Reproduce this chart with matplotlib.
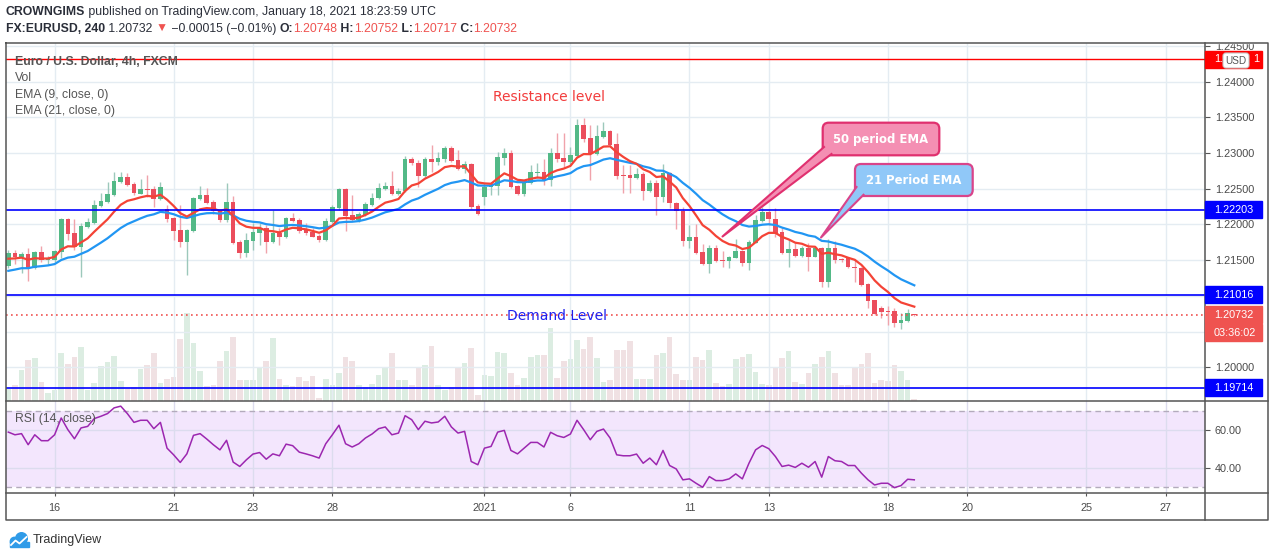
import numpy as np
import matplotlib
matplotlib.use("Agg")
import matplotlib.pyplot as plt
from matplotlib import font_manager
from matplotlib.patches import Rectangle, FancyBboxPatch, Polygon, Circle

# ---------------- EURUSD 4h candles ----------------
opens = [1.2142, 1.2160, 1.2154, 1.2158, 1.2139, 1.2161, 1.2150, 1.2150, 1.2161, 1.2207,
         1.2188, 1.2168, 1.2196, 1.2202, 1.2226, 1.2231, 1.2241, 1.2259, 1.2266, 1.2256,
         1.2242, 1.2249, 1.2249, 1.2235, 1.2221, 1.2209, 1.2192, 1.2175, 1.2191, 1.2235,
         1.2241, 1.2231, 1.2219, 1.2206, 1.2231, 1.2175, 1.2160, 1.2177, 1.2188, 1.2195,
         1.2175, 1.2188, 1.2182, 1.2209, 1.2206, 1.2193, 1.2189, 1.2184, 1.2178, 1.2203,
         1.2223, 1.2249, 1.2213, 1.2206, 1.2213, 1.2227, 1.2237, 1.2249, 1.2254, 1.2242,
         1.2247, 1.2291, 1.2286, 1.2268, 1.2291, 1.2287, 1.2291, 1.2307, 1.2290, 1.2277,
         1.2284, 1.2226, 1.2238, 1.2252, 1.2254, 1.2293, 1.2300, 1.2254, 1.2242, 1.2258,
         1.2272, 1.2273, 1.2262, 1.2300, 1.2293, 1.2288, 1.2296, 1.2339, 1.2321, 1.2298,
         1.2322, 1.2331, 1.2312, 1.2269, 1.2269, 1.2265, 1.2270, 1.2247, 1.2258, 1.2238,
         1.2272, 1.2230, 1.2219, 1.2177, 1.2182, 1.2161, 1.2144, 1.2167, 1.2150, 1.2149,
         1.2153, 1.2163, 1.2146, 1.2174, 1.2205, 1.2217, 1.2207, 1.2189, 1.2160, 1.2165,
         1.2156, 1.2167, 1.2154, 1.2167, 1.2119, 1.2167, 1.2151, 1.2153, 1.2140, 1.2139,
         1.2116, 1.2094, 1.2083, 1.2079, 1.2079, 1.2062, 1.2065, 1.20748]
highs = [1.2164, 1.2164, 1.2161, 1.2167, 1.2163, 1.2170, 1.2156, 1.2164, 1.2209, 1.2209,
         1.2207, 1.2202, 1.2209, 1.2234, 1.2244, 1.2259, 1.2273, 1.2273, 1.2272, 1.2259,
         1.2263, 1.2269, 1.2254, 1.2259, 1.2227, 1.2210, 1.2227, 1.2193, 1.2238, 1.2254,
         1.2251, 1.2234, 1.2221, 1.2258, 1.2240, 1.2178, 1.2188, 1.2202, 1.2202, 1.2199,
         1.2220, 1.2195, 1.2210, 1.2216, 1.2209, 1.2202, 1.2195, 1.2187, 1.2209, 1.2227,
         1.2251, 1.2251, 1.2241, 1.2217, 1.2231, 1.2244, 1.2258, 1.2259, 1.2275, 1.2251,
         1.2296, 1.2294, 1.2290, 1.2294, 1.2311, 1.2301, 1.2310, 1.2310, 1.2304, 1.2289,
         1.2286, 1.2228, 1.2258, 1.2259, 1.2301, 1.2307, 1.2304, 1.2255, 1.2262, 1.2283,
         1.2286, 1.2291, 1.2307, 1.2328, 1.2328, 1.2308, 1.2347, 1.2349, 1.2339, 1.2339,
         1.2343, 1.2332, 1.2328, 1.2283, 1.2283, 1.2279, 1.2273, 1.2262, 1.2262, 1.2284,
         1.2273, 1.2231, 1.2224, 1.2199, 1.2200, 1.2172, 1.2171, 1.2171, 1.2163, 1.2156,
         1.2179, 1.2164, 1.2178, 1.2213, 1.2224, 1.2220, 1.2223, 1.2195, 1.2179, 1.2174,
         1.2170, 1.2174, 1.2168, 1.2168, 1.2179, 1.2177, 1.2153, 1.2154, 1.2150, 1.2140,
         1.2118, 1.2094, 1.2086, 1.2086, 1.2083, 1.2076, 1.2081, 1.20752]
lows = [1.2139, 1.2144, 1.2132, 1.2121, 1.2137, 1.2147, 1.2144, 1.2147, 1.2153, 1.2178,
        1.2164, 1.2126, 1.2195, 1.2200, 1.2224, 1.2230, 1.2240, 1.2258, 1.2254, 1.2241,
        1.2242, 1.2238, 1.2224, 1.2234, 1.2203, 1.2178, 1.2168, 1.2129, 1.2189, 1.2234,
        1.2228, 1.2214, 1.2203, 1.2203, 1.2172, 1.2153, 1.2154, 1.2164, 1.2171, 1.2160,
        1.2174, 1.2171, 1.2181, 1.2203, 1.2188, 1.2185, 1.2182, 1.2175, 1.2177, 1.2202,
        1.2220, 1.2191, 1.2205, 1.2203, 1.2212, 1.2226, 1.2235, 1.2248, 1.2241, 1.2241,
        1.2245, 1.2283, 1.2252, 1.2266, 1.2273, 1.2283, 1.2287, 1.2287, 1.2276, 1.2272,
        1.2221, 1.2213, 1.2227, 1.2241, 1.2241, 1.2283, 1.2251, 1.2241, 1.2240, 1.2256,
        1.2265, 1.2255, 1.2254, 1.2287, 1.2280, 1.2283, 1.2294, 1.2316, 1.2262, 1.2297,
        1.2321, 1.2310, 1.2263, 1.2244, 1.2244, 1.2263, 1.2234, 1.2245, 1.2213, 1.2231,
        1.2223, 1.2193, 1.2170, 1.2167, 1.2158, 1.2143, 1.2132, 1.2147, 1.2140, 1.2139,
        1.2153, 1.2142, 1.2136, 1.2174, 1.2203, 1.2199, 1.2182, 1.2158, 1.2140, 1.2154,
        1.2154, 1.2135, 1.2154, 1.2112, 1.2112, 1.2146, 1.2147, 1.2139, 1.2119, 1.2114,
        1.2083, 1.2073, 1.2069, 1.2059, 1.2056, 1.2053, 1.2063, 1.20717]
closes = [1.2160, 1.2154, 1.2158, 1.2139, 1.2161, 1.2150, 1.2153, 1.2163, 1.2207, 1.2187,
          1.2168, 1.2198, 1.2203, 1.2227, 1.2233, 1.2242, 1.2261, 1.2266, 1.2255, 1.2244,
          1.2249, 1.2248, 1.2235, 1.2252, 1.2207, 1.2191, 1.2175, 1.2192, 1.2237, 1.2241,
          1.2230, 1.2219, 1.2206, 1.2231, 1.2174, 1.2160, 1.2178, 1.2189, 1.2195, 1.2175,
          1.2188, 1.2182, 1.2209, 1.2205, 1.2191, 1.2188, 1.2182, 1.2178, 1.2205, 1.2224,
          1.2249, 1.2212, 1.2206, 1.2214, 1.2228, 1.2237, 1.2251, 1.2254, 1.2242, 1.2247,
          1.2291, 1.2286, 1.2268, 1.2291, 1.2287, 1.2293, 1.2307, 1.2289, 1.2277, 1.2284,
          1.2224, 1.2214, 1.2252, 1.2255, 1.2294, 1.2300, 1.2252, 1.2242, 1.2258, 1.2273,
          1.2273, 1.2262, 1.2300, 1.2291, 1.2288, 1.2297, 1.2339, 1.2319, 1.2298, 1.2324,
          1.2331, 1.2311, 1.2268, 1.2268, 1.2265, 1.2270, 1.2247, 1.2258, 1.2238, 1.2272,
          1.2230, 1.2219, 1.2177, 1.2182, 1.2160, 1.2144, 1.2167, 1.2149, 1.2149, 1.2154,
          1.2163, 1.2146, 1.2175, 1.2206, 1.2217, 1.2207, 1.2188, 1.2160, 1.2165, 1.2156,
          1.2167, 1.2154, 1.2167, 1.2119, 1.2167, 1.2150, 1.2150, 1.2140, 1.2139, 1.2115,
          1.2093, 1.2075, 1.2077, 1.2077, 1.2062, 1.2066, 1.2076, 1.20732]
# tick volume (relative units)
volume = [12, 16, 31, 41, 43, 19, 8, 11, 48, 37,
          44, 54, 11, 18, 35, 39, 45, 20, 12, 14,
          32, 36, 48, 18, 22, 24, 62, 88, 58, 30,
          15, 16, 40, 50, 64, 21, 21, 21, 33, 40,
          63, 22, 16, 15, 24, 20, 25, 3, 22, 16,
          28, 44, 40, 16, 14, 17, 26, 34, 48, 21,
          21, 16, 33, 36, 55, 16, 11, 14, 34, 38,
          53, 6, 26, 25, 49, 48, 28, 16, 23, 44,
          46, 46, 73, 23, 40, 42, 61, 52, 64, 43,
          19, 21, 51, 51, 60, 22, 22, 22, 46, 48,
          64, 27, 21, 21, 44, 41, 51, 18, 15, 17,
          42, 44, 47, 29, 17, 16, 34, 43, 50, 19,
          17, 28, 37, 44, 50, 28, 16, 16, 33, 37,
          48, 18, 21, 20, 36, 30, 21, 2]
rsi = [58.9, 57.5, 58.1, 52.3, 57.5, 54.4, 54.4, 57.5, 66.3, 60.2,
       55.4, 61.1, 61.9, 66.0, 67.2, 68.6, 71.6, 72.5, 68.6, 64.0,
       65.1, 65.1, 60.7, 64.0, 50.5, 47.0, 43.0, 47.5, 57.2, 58.1,
       55.3, 52.3, 49.6, 54.6, 43.2, 40.9, 44.4, 47.4, 48.2, 44.7,
       47.5, 46.5, 52.6, 51.8, 48.4, 47.5, 46.5, 45.3, 52.8, 57.5,
       62.5, 52.8, 51.1, 52.8, 55.8, 57.9, 60.7, 61.6, 57.5, 58.4,
       67.5, 65.4, 60.2, 64.6, 63.7, 64.2, 67.2, 61.6, 58.4, 59.3,
       43.5, 41.8, 50.5, 51.4, 58.9, 59.8, 49.3, 47.5, 50.5, 53.5,
       53.5, 51.1, 58.8, 57.0, 56.1, 57.9, 65.1, 60.2, 54.9, 59.3,
       60.5, 55.8, 47.0, 46.5, 46.5, 47.4, 42.6, 45.3, 41.8, 49.3,
       41.4, 39.6, 33.9, 34.4, 32.1, 30.0, 35.6, 33.5, 33.5, 34.4,
       37.0, 34.4, 42.6, 49.6, 51.9, 50.2, 46.1, 40.9, 41.6, 40.4,
       42.6, 40.5, 43.5, 35.3, 46.1, 43.9, 43.5, 41.4, 41.4, 37.4,
       33.9, 31.2, 32.1, 32.1, 29.8, 30.9, 34.2, 33.9]

# EMA values on the first visible bar (history before the window is not shown)
EMA9_START = 1.2152
EMA21_START = 1.2135

# date labels on the time axis and the bar they sit on
tick_labels = ["16", "21", "23", "28", "2021", "6", "11", "13", "18", "20", "25", "27"]
tick_bars = [7, 25, 37, 49, 72, 85, 103, 115, 133, 145, 163, 175]

price_ticks = [1.200, 1.205, 1.210, 1.215, 1.220, 1.225, 1.230, 1.235, 1.240, 1.245]
levels_blue = [1.22203, 1.21016, 1.19714]
level_red = 1.24311
last_price = 1.20732
countdown = "03:36:02"

# ---------------- helpers ----------------
def ema(values, span, start):
    a = 2.0 / (span + 1)
    out = [start]
    for v in values[1:]:
        out.append(out[-1] + a * (v - out[-1]))
    return np.array(out)

W, H = 1274, 557
names = {f.name for f in font_manager.fontManager.ttflist}
SANS = "Liberation Sans" if "Liberation Sans" in names else "DejaVu Sans"
plt.rcParams["font.family"] = [SANS, "DejaVu Sans"]

GREEN, RED = "#53b987", "#eb4d5c"
GRID = "#e4ecf2"
TXT = "#4a4a4a"

fig = plt.figure(figsize=(W / 100, H / 100), dpi=100)
fig.patch.set_facecolor("white")

def frac(x0, y0, x1, y1):
    return [x0 / W, 1 - y1 / H, (x1 - x0) / W, (y1 - y0) / H]

ax = fig.add_axes(frac(6, 43, 1205, 401))
vax = ax.twinx()
ax.set_zorder(vax.get_zorder() + 1)
ax.patch.set_visible(False)
ax2 = fig.add_axes(frac(6, 401, 1205, 493), sharex=ax)

o, h, l, c = map(np.array, (opens, highs, lows, closes))
x = np.arange(len(c))
up = c >= o

# ---------------- volume (bottom of price pane) ----------------
vax.bar(x, volume, width=0.85, color=np.where(up, "#dcede2", "#f0e1e3"), linewidth=0)
vax.set_ylim(0, 357)
vax.axis("off")

# ---------------- candles + EMAs ----------------
ax.vlines(x, l, h, colors=np.where(up, "#9cc8bb", "#f0a3ab"), lw=1, zorder=2)
ax.bar(x, np.maximum(np.abs(c - o), 0.00012), bottom=np.minimum(o, c), width=0.7,
       color=np.where(up, GREEN, RED), linewidth=0, zorder=3)
ax.plot(x, ema(c, 21, EMA21_START), color="#2196f3", lw=1.6, zorder=4)
ax.plot(x, ema(c, 9, EMA9_START), color="#f44336", lw=1.6, zorder=4)

for lv in levels_blue:
    ax.axhline(lv, color="#0000ff", lw=1.2, zorder=5)
ax.axhline(level_red, color="#ff0000", lw=1.0, zorder=5)
ax.axhline(last_price, color="#ef5350", lw=1.2, ls=(0, (1, 2)), zorder=5)

ax.set_xlim(-0.35, 180.96)
ax.set_ylim(1.19527, 1.24541)
ax.set_axisbelow(True)
ax.grid(True, color=GRID, lw=1)
ax.yaxis.tick_right()
ax.set_yticks(price_ticks)
ax.set_yticklabels([f"{p:.5f}" for p in price_ticks])
ax.tick_params(axis="y", length=3.5, width=0.8, color="#555", labelsize=7.8,
               labelcolor=TXT, pad=3.5)
ax.tick_params(axis="x", length=0, labelbottom=False)
for s in ax.spines.values():
    s.set_visible(False)

# ---------------- RSI pane ----------------
ax2.axhspan(30, 70, color="#f3e6fd", zorder=1, lw=0)
ax2.axhline(70, color="#b3abbc", lw=1, ls=(0, (4, 3)), zorder=2)
ax2.axhline(30, color="#b3abbc", lw=1, ls=(0, (4, 3)), zorder=2)
ax2.plot(x, rsi, color="#9c27b0", lw=1.1, zorder=3)
ax2.set_ylim(27.0, 75.2)
ax2.set_axisbelow("line")
ax2.grid(True, color="#dcdcee", lw=1)
ax2.yaxis.tick_right()
ax2.set_yticks([40, 60])
ax2.set_yticklabels(["40.00", "60.00"])
ax2.set_xticks(tick_bars)
ax2.set_xticklabels(tick_labels)
ax2.tick_params(axis="y", length=3.5, width=0.8, color="#555", labelsize=7.8,
                labelcolor=TXT, pad=3.5)
ax2.tick_params(axis="x", length=2.2, width=0.8, color="#555", labelsize=7.8,
                labelcolor=TXT, pad=5)
for s in ax2.spines.values():
    s.set_visible(False)

# ---------------- overlay in pixel coordinates ----------------
ov = fig.add_axes([0, 0, 1, 1], zorder=10)
ov.set_xlim(0, W)
ov.set_ylim(H, 0)
ov.axis("off")
ov.patch.set_alpha(0)
renderer = fig.canvas.get_renderer()

def price_px(p):
    return H - ax.transData.transform((0, p))[1]

def text_w(s, **kw):
    t1 = ov.text(0, 0, "|" + s + "|", **kw)
    t2 = ov.text(0, 0, "||", **kw)
    w = t1.get_window_extent(renderer).width - t2.get_window_extent(renderer).width
    t1.remove()
    t2.remove()
    return w

def run(xp, yp, parts, size):
    for s, col, wt in parts:
        kw = dict(fontsize=size, fontweight=wt, family=[SANS, "DejaVu Sans"])
        ov.text(xp, yp, s, color=col, ha="left", va="center", **kw)
        xp += text_w(s, **kw)

# hide the part of the top price label that falls outside the frame
ov.add_patch(Rectangle((1200, 30), 74, 12.5, color="white", zorder=1))

# frame
FR = "#555555"
ov.plot([6, 1268, 1268, 6, 6], [43, 43, 520, 520, 43], color=FR, lw=1.1, zorder=2)
ov.plot([1205, 1205], [43, 520], color=FR, lw=1.1, zorder=2)
ov.plot([6, 1268], [401, 401], color=FR, lw=1.1, zorder=2)
ov.plot([6, 1268], [493, 493], color=FR, lw=1.1, zorder=2)

# header
DARK = "#2a2e39"
PR = "#ef5350"
run(6, 12, [("CROWNGIMS", DARK, "bold"),
            (" published on TradingView.com, January 18, 2021 18:23:59 UTC", DARK, "normal")], 8.8)
run(6, 29, [("FX:EURUSD, 240", DARK, "bold"), (" 1.20732 ", DARK, "normal"), ("\u25bc", PR, "normal"),
            (" \u22120.00015 (\u22120.01%) ", DARK, "normal"), ("O:", DARK, "bold"), ("1.20748", PR, "normal"),
            (" H:", DARK, "bold"), ("1.20752", PR, "normal"), (" L:", DARK, "bold"),
            ("1.20717", PR, "normal"), (" C:", DARK, "bold"), ("1.20732", PR, "normal")], 8.8)

# pane legends
LG = "#555555"
ov.text(15, 62, "Euro / U.S. Dollar, 4h, FXCM", color=LG, fontsize=8.8, fontweight="bold", va="center")
for yy, s in [(78, "Vol"), (95, "EMA (9, close, 0)"), (111, "EMA (21, close, 0)")]:
    ov.text(15, yy, s, color=LG, fontsize=8.8, va="center")
ov.text(15, 419, "RSI (14, close)", color=LG, fontsize=8.8, va="center")

# annotations
ov.text(493, 97, "Resistance level", color="#f23c3c", fontsize=10, family="DejaVu Sans", va="center")
ov.text(507, 316, "Demand Level", color="#2020ee", fontsize=10, family="DejaVu Sans", va="center")

def callout(x0, y0, x1, y1, tip, base_a, base_b, fill, edge, label):
    ov.add_patch(FancyBboxPatch((x0, y0), x1 - x0, y1 - y0,
                                boxstyle="round,pad=0,rounding_size=6",
                                fc=fill, ec=edge, lw=1.6, zorder=6))
    ov.add_patch(Polygon([tip, base_a, base_b], closed=True, fc=fill, ec="none", zorder=7))
    ov.plot([base_a[0], tip[0], base_b[0]], [base_a[1], tip[1], base_b[1]],
            color=edge, lw=1.5, zorder=8)
    ov.text((x0 + x1) / 2, (y0 + y1) / 2 + 0.5, label, color="white", fontsize=8.4,
            fontweight="bold", family="DejaVu Sans", ha="center", va="center", zorder=9)

callout(822.7, 122.7, 939.3, 155.3, (722.5, 236.5), (824.0, 147.0), (831.5, 154.0),
        "#f48fb3", "#e0306f", "50 period EMA")
callout(855.0, 164.0, 972.7, 196.0, (821.0, 237.5), (856.5, 187.0), (863.5, 194.8),
        "#90c8f8", "#d9448a", "21 Period EMA")

# price-scale labels
def scale_label(yc, text, bg):
    ov.add_patch(Rectangle((1205, yc - 8.5), 57, 17, color=bg, zorder=3))
    ov.text(1214, yc, text, color="white", fontsize=7.8, va="center", ha="left", zorder=4)

for lv in levels_blue:
    scale_label(price_px(lv), f"{lv:.5f}", "#0000ff")

# the red level's label is mostly covered by the currency badge: only its ends show
yr = price_px(level_red)
red_txt = f"{level_red:.5f}"
ov.add_patch(Rectangle((1205, yr - 8.5), 57, 17, color="#ff0000", zorder=3))
ov.text(1214, yr, red_txt[:2], color="white", fontsize=7.8, va="center", ha="left", zorder=4)
ov.text(1253, yr, red_txt[-1], color="white", fontsize=7.8, va="center", ha="left", zorder=4)
ov.add_patch(FancyBboxPatch((1223, 53), 26, 15, boxstyle="round,pad=0,rounding_size=3",
                            fc="white", ec="#c8c8c8", lw=0.8, zorder=5))
ov.text(1236, 60.5, "USD", color="#555", fontsize=7.2, ha="center", va="center", zorder=6)

ylp = price_px(last_price)
scale_label(ylp, f"{last_price:.5f}", PR)
scale_label(ylp + 18, countdown, PR)

# TradingView brand mark
TVB = "#2f9be8"
ov.add_patch(Circle((14.5, 541.5), 4.2, color=TVB, zorder=3))
ov.add_patch(Circle((21.5, 538.5), 5.8, color=TVB, zorder=3))
ov.add_patch(Rectangle((10.3, 541.5), 18.2, 5, color=TVB, zorder=3))
ov.plot([11, 15.5, 19.5, 26.5], [545, 540.5, 543.5, 537], color="white", lw=1.3, zorder=4)
ov.text(33, 539.5, "TradingView", color="#333333", fontsize=9, va="center")

fig.savefig("out.png", dpi=100, facecolor="white")
